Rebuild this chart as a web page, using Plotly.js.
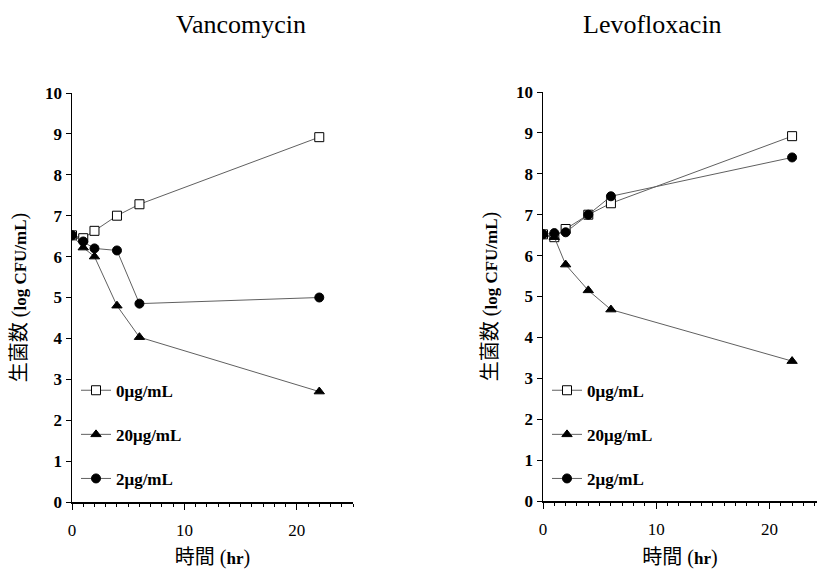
<!DOCTYPE html>
<html><head><meta charset="utf-8">
<script src="https://cdn.plot.ly/plotly-3.0.1.min.js"></script>
<style>body{margin:0;padding:0;background:#fff}#chart{width:817px;height:569px}</style>
</head><body><div id="chart"></div>
<script>
const hours = [0, 1, 2, 4, 6, 22];
const seriesNames = ['0μg/mL', '20μg/mL', '2μg/mL'];
const vanco0 = [6.52, 6.45, 6.63, 7.0, 7.28, 8.92];
const vanco20 = [6.52, 6.22, 6.0, 4.8, 4.03, 2.7];
const vanco2 = [6.52, 6.37, 6.2, 6.15, 4.85, 5.0];
const levo0 = [6.52, 6.45, 6.65, 7.0, 7.28, 8.92];
const levo20 = [6.52, 6.45, 5.78, 5.15, 4.68, 3.42];
const levo2 = [6.52, 6.55, 6.57, 7.0, 7.45, 8.4];
const panelTitles = ['Vancomycin', 'Levofloxacin'];
const yTitle = '<span style="font-size:20px">生菌数 (</span><b>log CFU/mL</b><span style="font-size:20px">)</span>';
const xTitle = '<span style="font-size:20px">時間 (</span><b>hr</b><span style="font-size:20px">)</span>';

const serif = 'Liberation Serif, Times New Roman, Noto Sans CJK JP, serif';
const lineCol = '#606060';
const markers = [
  {symbol: 'square', color: '#fff', size: 9, line: {color: '#000', width: 1}},
  {symbol: 'triangle-up', color: '#000', size: 9, line: {color: '#000', width: 1}},
  {symbol: 'circle', color: '#000', size: 9, line: {color: '#000', width: 1}}
];
function mk(y, i, xa, ya, leg) {
  return {x: hours, y: y, name: seriesNames[i], type: 'scatter', mode: 'lines+markers',
    xaxis: xa, yaxis: ya, legend: leg, legendgroup: leg + i,
    line: {color: lineCol, width: 1}, marker: markers[i]};
}
const data = [
  mk(vanco0, 0, 'x', 'y', 'legend'), mk(vanco20, 1, 'x', 'y', 'legend'), mk(vanco2, 2, 'x', 'y', 'legend'),
  mk(levo0, 0, 'x2', 'y2', 'legend2'), mk(levo20, 1, 'x2', 'y2', 'legend2'), mk(levo2, 2, 'x2', 'y2', 'legend2')
];
function xax(dom, rng, anchor) {
  return {domain: dom, range: rng, anchor: anchor, showgrid: false, zeroline: false,
    showline: true, linecolor: '#000', linewidth: 1.5,
    tickmode: 'array', tickvals: [0, 10, 20], ticks: 'outside', ticklen: 6, tickcolor: '#000',
    ticklabelstandoff: 6,
    minor: {dtick: 1, tick0: 0, ticks: 'outside', ticklen: 3, tickcolor: '#000', showgrid: false},
    tickfont: {family: serif, size: 17, color: '#000'},
    title: {text: xTitle, font: {family: serif, size: 17, color: '#000'}, standoff: 14},
    automargin: false, fixedrange: true};
}
function yax(dom, anchor) {
  return {domain: dom, range: [0, 10], anchor: anchor, showgrid: false, zeroline: false,
    showline: true, linecolor: '#000', linewidth: 1.5,
    dtick: 1, ticks: 'outside', ticklen: 5, tickcolor: '#000',
    tickfont: {family: serif, size: 17, color: '#000', weight: 'bold'},
    title: {text: yTitle, font: {family: serif, size: 17, color: '#000'}, standoff: 14},
    automargin: false, fixedrange: true};
}
function leg(x) {
  return {x: x, y: 0.345, xanchor: 'left', yanchor: 'top', bgcolor: 'rgba(0,0,0,0)',
    traceorder: 'grouped', tracegroupgap: 19, itemwidth: 30,
    font: {family: serif, size: 17, color: '#000', weight: 'bold'}};
}
const layout = {
  width: 817, height: 569, margin: {l: 0, r: 0, t: 0, b: 0},
  paper_bgcolor: '#fff', plot_bgcolor: '#fff', showlegend: true,
  xaxis: xax([72/817, 353/817], [0, 25], 'y'),
  yaxis: yax([67/569, 476/569], 'x'),
  xaxis2: xax([543/817, 1], [0, 24.2], 'y2'),
  yaxis2: yax([68/569, 477/569], 'x2'),
  legend: leg(76/817),
  legend2: leg(547/817),
  annotations: [
    {text: panelTitles[0], x: 241/817, y: 1 - 24/569, xref: 'paper', yref: 'paper', showarrow: false,
     xanchor: 'center', yanchor: 'middle', font: {family: serif, size: 26, color: '#000'}},
    {text: panelTitles[1], x: 652/817, y: 1 - 24/569, xref: 'paper', yref: 'paper', showarrow: false,
     xanchor: 'center', yanchor: 'middle', font: {family: serif, size: 26, color: '#000'}}
  ]
};
Plotly.newPlot('chart', data, layout, {displayModeBar: false, staticPlot: true});
</script></body></html>
